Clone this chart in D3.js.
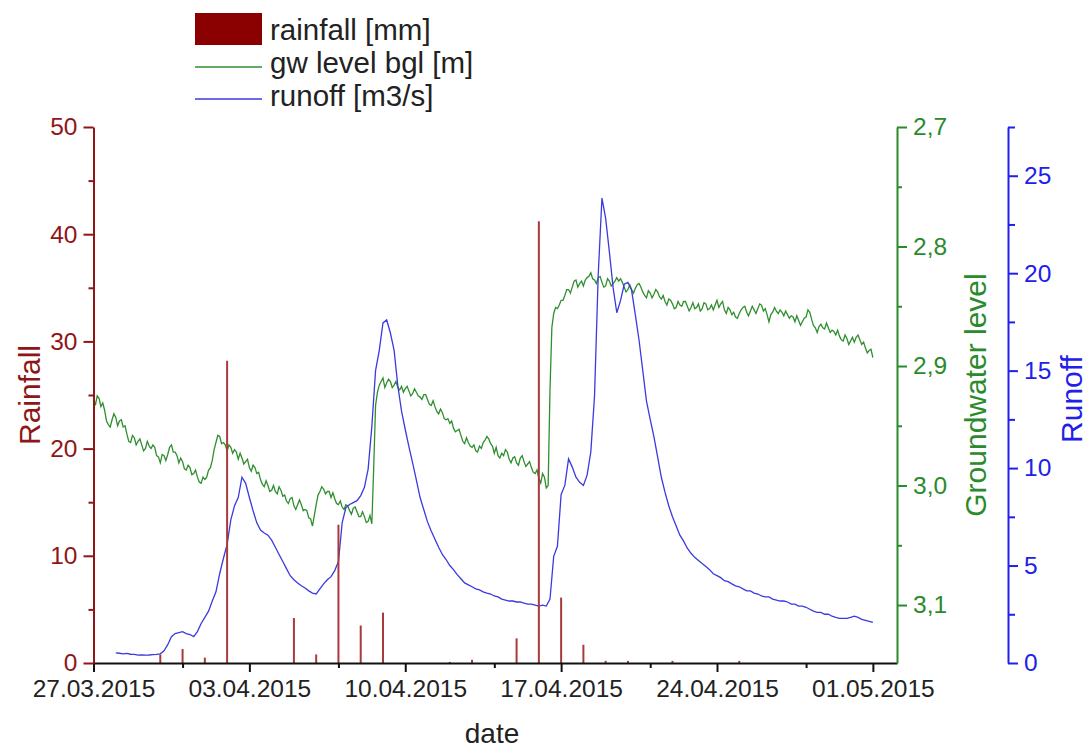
<!DOCTYPE html>
<html>
<head>
<meta charset="utf-8">
<script src="https://cdn.jsdelivr.net/npm/d3@7"></script>
<style>
  body { margin: 0; background: #fff; }
  svg { display: block; font-family: "Liberation Sans", Arial, sans-serif; }
</style>
</head>
<body>
<svg id="chart" width="1091" height="749"></svg>
<script>
// daily rainfall [mm]
const rainDates = ["30.03.2015", "31.03.2015", "01.04.2015", "02.04.2015", "05.04.2015", "06.04.2015",
  "07.04.2015", "08.04.2015", "09.04.2015", "12.04.2015", "13.04.2015", "15.04.2015", "16.04.2015",
  "17.04.2015", "18.04.2015", "19.04.2015", "20.04.2015", "22.04.2015", "25.04.2015"];
const rainMm = [0.8, 1.3, 0.5, 28.2, 4.2, 0.8, 12.9, 3.5, 4.7, 0.1, 0.3, 2.3, 41.2, 6.1, 1.7, 0.2, 0.2, 0.2, 0.2];

// groundwater level below ground [m], one reading every 2 hours
const gwStepHours = 2;
const gwStart = "27.03.2015 00:00";
const gwLevel = [
  2.927, 2.933, 2.925, 2.927, 2.934, 2.931, 2.937, 2.946, 2.949, 2.951, 2.945, 2.940, 2.943, 2.950, 2.946, 2.945, 2.951, 2.950, 2.957,
  2.963, 2.964, 2.958, 2.960, 2.966, 2.963, 2.961, 2.966, 2.971, 2.969, 2.963, 2.967, 2.969, 2.966, 2.968, 2.975, 2.976, 2.981, 2.974, 2.975,
  2.979, 2.974, 2.968, 2.966, 2.972, 2.972, 2.975, 2.981, 2.977, 2.980, 2.986, 2.987, 2.983, 2.985, 2.991, 2.990, 2.987, 2.993, 2.997, 2.998,
  2.993, 2.995, 2.993, 2.987, 2.985, 2.979, 2.970, 2.964, 2.958, 2.959, 2.965, 2.964, 2.966, 2.971, 2.966, 2.968, 2.973, 2.970, 2.972, 2.978,
  2.973, 2.977, 2.982, 2.980, 2.978, 2.985, 2.988, 2.983, 2.985, 2.990, 2.989, 2.995, 2.999, 3.001, 2.996, 3.000, 3.005, 3.004, 3.000, 3.005,
  3.007, 3.001, 3.004, 3.009, 3.008, 3.013, 3.015, 3.011, 3.010, 3.017, 3.020, 3.016, 3.012, 3.016, 3.021, 3.020, 3.021, 3.027, 3.028, 3.034,
  3.025, 3.016, 3.008, 3.005, 3.001, 3.003, 3.007, 3.005, 3.005, 3.010, 3.006, 3.011, 3.015, 3.016, 3.013, 3.018, 3.020, 3.016, 3.017, 3.021,
  3.024, 3.019, 3.018, 3.022, 3.026, 3.026, 3.022, 3.026, 3.031, 3.030, 3.025, 3.032, 2.985, 2.933, 2.922, 2.916, 2.913, 2.910, 2.918, 2.914,
  2.911, 2.913, 2.918, 2.916, 2.913, 2.918, 2.920, 2.917, 2.922, 2.919, 2.917, 2.921, 2.925, 2.923, 2.919, 2.922, 2.925, 2.926, 2.928, 2.924,
  2.924, 2.928, 2.932, 2.933, 2.929, 2.934, 2.938, 2.940, 2.936, 2.939, 2.944, 2.945, 2.944, 2.948, 2.946, 2.952, 2.955, 2.954, 2.953, 2.958,
  2.963, 2.965, 2.960, 2.964, 2.967, 2.968, 2.966, 2.971, 2.972, 2.967, 2.969, 2.964, 2.962, 2.959, 2.961, 2.965, 2.967, 2.973, 2.968, 2.975,
  2.977, 2.973, 2.975, 2.970, 2.972, 2.978, 2.981, 2.977, 2.976, 2.981, 2.983, 2.977, 2.975, 2.980, 2.984, 2.982, 2.980, 2.985, 2.989, 2.990,
  2.987, 2.994, 2.998, 2.990, 2.993, 3.002, 3.000, 2.920, 2.868, 2.856, 2.851, 2.852, 2.849, 2.845, 2.845, 2.841, 2.836, 2.836, 2.839, 2.834,
  2.829, 2.828, 2.834, 2.831, 2.829, 2.833, 2.828, 2.826, 2.825, 2.822, 2.827, 2.828, 2.831, 2.826, 2.825, 2.830, 2.834, 2.833, 2.827, 2.829,
  2.833, 2.831, 2.829, 2.826, 2.829, 2.827, 2.830, 2.834, 2.838, 2.836, 2.832, 2.836, 2.839, 2.835, 2.832, 2.831, 2.834, 2.838, 2.841, 2.843,
  2.837, 2.839, 2.843, 2.840, 2.836, 2.838, 2.842, 2.844, 2.841, 2.846, 2.849, 2.844, 2.845, 2.848, 2.852, 2.851, 2.846, 2.849, 2.850, 2.846,
  2.846, 2.850, 2.854, 2.851, 2.847, 2.852, 2.851, 2.848, 2.854, 2.852, 2.847, 2.848, 2.853, 2.852, 2.849, 2.853, 2.849, 2.845, 2.851, 2.848,
  2.846, 2.853, 2.856, 2.851, 2.853, 2.857, 2.855, 2.859, 2.860, 2.856, 2.853, 2.851, 2.850, 2.855, 2.858, 2.854, 2.850, 2.853, 2.856, 2.852,
  2.848, 2.849, 2.854, 2.852, 2.857, 2.863, 2.857, 2.855, 2.851, 2.854, 2.856, 2.853, 2.855, 2.858, 2.854, 2.857, 2.860, 2.858, 2.859, 2.863,
  2.858, 2.862, 2.866, 2.863, 2.860, 2.859, 2.853, 2.855, 2.861, 2.866, 2.868, 2.872, 2.867, 2.865, 2.868, 2.869, 2.864, 2.868, 2.872, 2.870,
  2.871, 2.874, 2.870, 2.875, 2.878, 2.879, 2.874, 2.877, 2.882, 2.879, 2.876, 2.880, 2.876, 2.874, 2.878, 2.882, 2.880, 2.885, 2.889, 2.887, 2.886, 2.893
];

// runoff [m3/s], one reading every 4 hours
const runoffStepHours = 4;
const runoffStart = "28.03.2015 00:00";
const runoff = [
  0.52, 0.50, 0.47, 0.49, 0.45, 0.44, 0.40, 0.42, 0.40, 0.41,
  0.43, 0.44, 0.47, 0.63, 0.94, 1.35, 1.51, 1.56, 1.61, 1.51,
  1.46, 1.35, 1.61, 2.03, 2.34, 2.66, 3.18, 3.65, 4.58, 5.36,
  6.09, 7.34, 8.07, 8.49, 9.53, 9.22, 8.49, 7.81, 7.19, 6.82,
  6.67, 6.56, 6.30, 5.94, 5.57, 5.21, 4.84, 4.48, 4.27, 4.11,
  3.96, 3.85, 3.70, 3.59, 3.54, 3.80, 4.06, 4.27, 4.43, 4.74,
  5.21, 7.19, 7.97, 8.13, 8.23, 8.33, 8.59, 9.01, 9.95, 12.14,
  15.00, 16.04, 17.45, 17.60, 16.93, 16.04, 14.22, 12.92, 11.98, 11.09,
  10.26, 9.38, 8.49, 7.86, 7.24, 6.77, 6.35, 5.94, 5.57, 5.31,
  5.00, 4.79, 4.53, 4.32, 4.11, 4.01, 3.91, 3.80, 3.75, 3.65,
  3.59, 3.54, 3.44, 3.39, 3.28, 3.23, 3.18, 3.18, 3.13, 3.13,
  3.07, 3.02, 3.02, 2.97, 2.92, 2.97, 2.92, 3.28, 5.47, 5.99,
  8.65, 9.11, 10.47, 10.05, 9.53, 9.27, 9.11, 9.64, 10.83, 13.70,
  19.95, 23.85, 22.81, 21.09, 19.27, 17.97, 18.59, 19.43, 19.53, 19.11,
  17.86, 16.56, 15.00, 13.44, 12.50, 11.61, 10.57, 9.53, 8.75, 8.07,
  7.50, 7.03, 6.56, 6.25, 5.89, 5.63, 5.42, 5.26, 5.10, 4.95,
  4.79, 4.58, 4.48, 4.38, 4.22, 4.17, 4.06, 3.96, 3.91, 3.80,
  3.70, 3.70, 3.59, 3.54, 3.44, 3.39, 3.39, 3.28, 3.23, 3.18,
  3.18, 3.13, 3.02, 3.02, 2.92, 2.92, 2.86, 2.76, 2.66, 2.60,
  2.60, 2.50, 2.50, 2.40, 2.34, 2.29, 2.29, 2.29, 2.34, 2.40,
  2.34, 2.24, 2.19, 2.14, 2.08
];

// axis ticks
const dateTicks = ["27.03.2015", "03.04.2015", "10.04.2015", "17.04.2015", "24.04.2015", "01.05.2015"];
const dateMinorTicks = ["31.03.2015", "07.04.2015", "14.04.2015", "21.04.2015", "28.04.2015"];
const rainTicks = [0, 10, 20, 30, 40, 50];
const rainMinorTicks = [5, 15, 25, 35, 45];
const gwTicks = [2.7, 2.8, 2.9, 3.0, 3.1];
const gwMinorTicks = [2.75, 2.85, 2.95, 3.05];
const runoffTicks = [0, 5, 10, 15, 20, 25];
const runoffMinorTicks = [2.5, 7.5, 12.5, 17.5, 22.5, 27.5];

const parseDay = d3.utcParse("%d.%m.%Y");
const parseTime = d3.utcParse("%d.%m.%Y %H:%M");
const commaFmt = d3.formatLocale({ decimal: ",", thousands: ".", grouping: [3], currency: ["", ""] }).format(".1f");

const red = "#8f1616", green = "#2b8a2b", blue = "#2020ea";
const plotLeft = 93.5, plotRight = 897, plotTop = 127, plotBottom = 663;
const blueAxisX = 1008;

const x = d3.scaleUtc()
  .domain([parseTime("27.03.2015 00:00"), parseTime("02.05.2015 02:00")])
  .range([plotLeft, plotRight]);
const yRain = d3.scaleLinear().domain([0, 50]).range([plotBottom, plotTop]);
const yGw = d3.scaleLinear().domain([2.7, 3.1485]).range([plotTop, plotBottom]);
const yRun = d3.scaleLinear().domain([0, 27.5]).range([plotBottom, plotTop]);

const svg = d3.select("#chart");
svg.append("rect").attr("width", 1091).attr("height", 749).attr("fill", "#fff");

const gwData = gwLevel.map((v, i) => ({ t: d3.utcHour.offset(parseTime(gwStart), i * gwStepHours), v }));
const runData = runoff.map((v, i) => ({ t: d3.utcHour.offset(parseTime(runoffStart), i * runoffStepHours), v }));
const rainData = rainDates.map((d, i) => ({ t: parseDay(d), v: rainMm[i] }));

// lines
svg.append("path")
  .datum(gwData)
  .attr("fill", "none")
  .attr("stroke", "#2f8f2f")
  .attr("stroke-width", 1.3)
  .attr("d", d3.line().x(d => x(d.t)).y(d => yGw(d.v)));

svg.append("path")
  .datum(runData)
  .attr("fill", "none")
  .attr("stroke", "#3a3ae0")
  .attr("stroke-width", 1.3)
  .attr("d", d3.line().x(d => x(d.t)).y(d => yRun(d.v)));

// rain bars
svg.append("g")
  .selectAll("line")
  .data(rainData)
  .join("line")
    .attr("x1", d => x(d.t))
    .attr("x2", d => x(d.t))
    .attr("y1", yRain(0))
    .attr("y2", d => yRain(d.v))
    .attr("stroke", "#a83a3a")
    .attr("stroke-width", 2);

function styleAxis(g, color) {
  g.selectAll("path, line").attr("stroke", color).attr("stroke-width", 2);
  g.selectAll("text").attr("fill", color).style("font-size", "24.5px");
}

// x axis
const gx = svg.append("g")
  .attr("transform", `translate(0,${plotBottom})`)
  .call(d3.axisBottom(x).tickValues(dateTicks.map(parseDay))
    .tickFormat(d3.utcFormat("%d.%m.%Y")).tickSize(9).tickSizeOuter(0).tickPadding(8));
styleAxis(gx, "#111");
gx.selectAll("text").attr("fill", "#222");
const gxm = svg.append("g")
  .attr("transform", `translate(0,${plotBottom})`)
  .call(d3.axisBottom(x).tickValues(dateMinorTicks.map(parseDay)).tickFormat("").tickSize(5));
gxm.select(".domain").remove();
styleAxis(gxm, "#111");

// rainfall axis
const gy = svg.append("g")
  .attr("transform", `translate(${plotLeft},0)`)
  .call(d3.axisLeft(yRain).tickValues(rainTicks).tickSize(10).tickSizeOuter(0).tickPadding(6));
styleAxis(gy, red);
const gym = svg.append("g")
  .attr("transform", `translate(${plotLeft},0)`)
  .call(d3.axisLeft(yRain).tickValues(rainMinorTicks).tickFormat("").tickSize(5));
gym.select(".domain").remove();
styleAxis(gym, red);

// groundwater axis
const gg = svg.append("g")
  .attr("transform", `translate(${plotRight},0)`)
  .call(d3.axisRight(yGw).tickValues(gwTicks).tickFormat(commaFmt).tickSize(10).tickSizeOuter(0).tickPadding(6));
styleAxis(gg, green);
const ggm = svg.append("g")
  .attr("transform", `translate(${plotRight},0)`)
  .call(d3.axisRight(yGw).tickValues(gwMinorTicks).tickFormat("").tickSize(5));
ggm.select(".domain").remove();
styleAxis(ggm, green);

// runoff axis
const gr = svg.append("g")
  .attr("transform", `translate(${blueAxisX},0)`)
  .call(d3.axisRight(yRun).tickValues(runoffTicks).tickSize(10).tickSizeOuter(0).tickPadding(6));
styleAxis(gr, blue);
const grm = svg.append("g")
  .attr("transform", `translate(${blueAxisX},0)`)
  .call(d3.axisRight(yRun).tickValues(runoffMinorTicks).tickFormat("").tickSize(7));
grm.select(".domain").remove();
styleAxis(grm, blue);

// axis titles
svg.append("text")
  .attr("transform", `translate(40,${(plotTop + plotBottom) / 2}) rotate(-90)`)
  .attr("text-anchor", "middle")
  .attr("fill", red)
  .style("font-size", "30px")
  .text("Rainfall");
svg.append("text")
  .attr("transform", `translate(986,${(plotTop + plotBottom) / 2}) rotate(-90)`)
  .attr("text-anchor", "middle")
  .attr("fill", green)
  .style("font-size", "30px")
  .text("Groundwater level");
svg.append("text")
  .attr("transform", `translate(1082,${(plotTop + plotBottom) / 2 + 4}) rotate(-90)`)
  .attr("text-anchor", "middle")
  .attr("fill", blue)
  .style("font-size", "30px")
  .text("Runoff");
svg.append("text")
  .attr("x", 492)
  .attr("y", 743)
  .attr("text-anchor", "middle")
  .attr("fill", "#222")
  .style("font-size", "28px")
  .text("date");

// legend
const legend = svg.append("g").style("font-size", "29.5px").attr("fill", "#222");
legend.append("rect").attr("x", 195).attr("y", 13).attr("width", 67).attr("height", 32).attr("fill", "#8b0000");
legend.append("line").attr("x1", 195).attr("x2", 262).attr("y1", 67).attr("y2", 67).attr("stroke", "#2f8f2f").attr("stroke-width", 1.5);
legend.append("line").attr("x1", 195).attr("x2", 262).attr("y1", 99).attr("y2", 99).attr("stroke", "#3a3ae0").attr("stroke-width", 1.5);
legend.append("text").attr("x", 270).attr("y", 40).text("rainfall [mm]");
legend.append("text").attr("x", 270).attr("y", 73).text("gw level bgl [m]");
legend.append("text").attr("x", 270).attr("y", 106).text("runoff [m3/s]");
</script>
</body>
</html>
